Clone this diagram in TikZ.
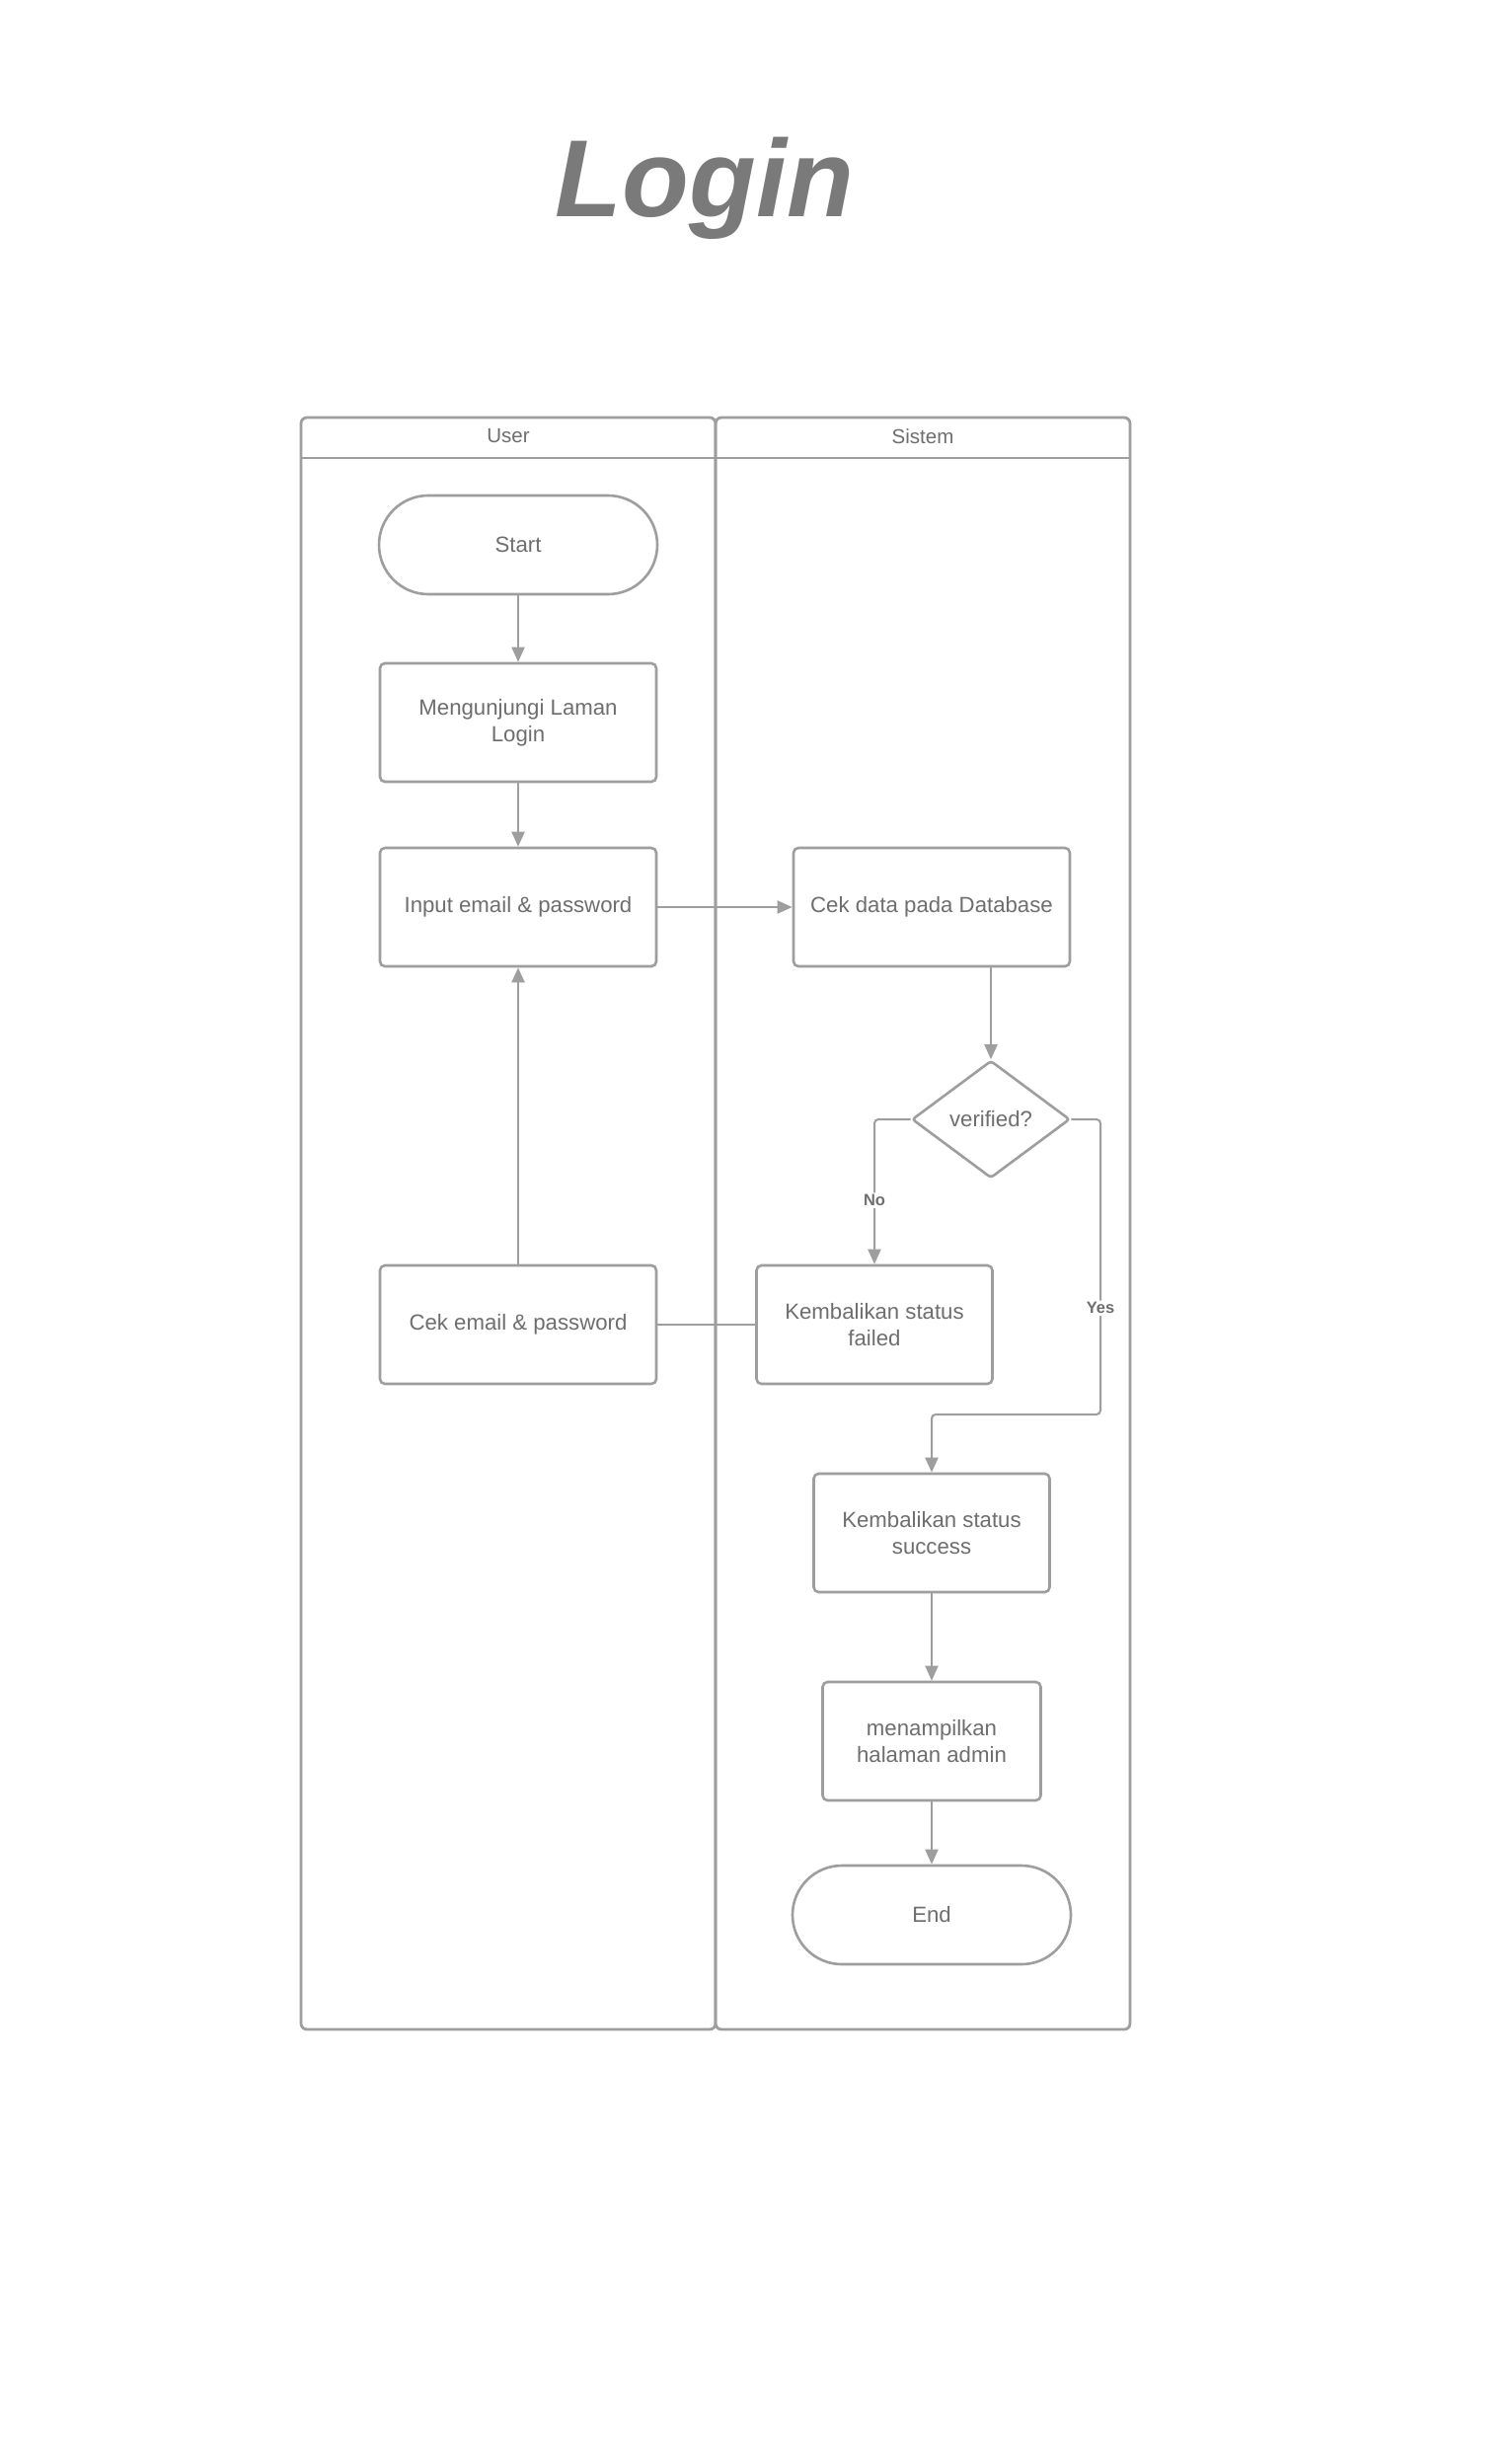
\documentclass[tikz,border=0pt]{standalone}
\usepackage{fontspec}
\setmainfont{Liberation Sans}
\usetikzlibrary{shapes.geometric,arrows.meta}
\definecolor{linegray}{HTML}{9E9E9E}
\definecolor{textgray}{HTML}{6E6E6E}
\definecolor{titlegray}{HTML}{7A7A7A}
\begin{document}
\begin{tikzpicture}[x=1pt,y=-1pt,
  every node/.style={font=\fontsize{22.2}{27}\selectfont, text=textgray},
  lane/.style={draw=linegray, line width=2.8pt, rounded corners=6pt},
  lanehead/.style={font=\fontsize{20.5}{24}\selectfont},
  stepbox/.style={draw=linegray, line width=2.6pt, rounded corners=5pt,
    minimum width=280pt, minimum height=120pt, align=center, inner sep=0pt},
  terminal/.style={draw=linegray, line width=2.6pt, rounded corners=50pt,
    minimum width=282pt, minimum height=100pt, inner sep=0pt},
  decision/.style={draw=linegray, line width=2.6pt, diamond, rounded corners=3pt,
    minimum width=160pt, minimum height=119pt, inner sep=0pt},
  arr/.style={draw=linegray, line width=2pt, rounded corners=4pt,
    -{Triangle[length=15pt,width=13pt]}},
  plain/.style={draw=linegray, line width=2pt},
  lbl/.style={font=\bfseries\fontsize{16.5}{16.5}\selectfont, fill=white, inner sep=2pt}
]
% page
\fill[white] (0,0) rectangle (1531,2473);
\useasboundingbox (0,0) rectangle (1531,2473);

% title
\node[anchor=base, text=titlegray, font=\fontsize{111}{111}\selectfont\bfseries\itshape] (title) at (714,219) {Login};

% swimlanes
\draw[lane] (305,423) rectangle (725,2056);
\draw[lane] (725,423) rectangle (1145,2056);
\draw[lane, rounded corners=0pt] (305,464) -- (1145,464);
\node[lanehead] (userlane) at (515,442) {User};
\node[lanehead] (systemlane) at (935,442) {Sistem};

% steps
\node[terminal] (start) at (525,552) {Start};
\node[stepbox] (visit) at (525,732) {Mengunjungi Laman\\Login};
\node[stepbox] (input) at (525,919) {Input email \& password};
\node[stepbox] (cekdb) at (944,919) {Cek data pada Database};
\node[decision] (dia) at (1004,1134) {verified?};
\node[stepbox, minimum width=239pt] (failed) at (886,1342) {Kembalikan status\\failed};
\node[stepbox] (cekemail) at (525,1342) {Cek email \& password};
\node[stepbox, minimum width=239pt] (success) at (944,1553) {Kembalikan status\\success};
\node[stepbox, minimum width=221pt] (admin) at (944,1764) {menampilkan\\halaman admin};
\node[terminal] (end) at (944,1940) {End};

\coordinate (yesturn) at (1115,1433);

% connectors
\draw[arr] (start) -- (visit);
\draw[arr] (visit) -- (input);
\draw[arr] (input) -- (cekdb);
\draw[arr] (cekdb.south -| dia.north) -- (dia.north);
\draw[arr] (dia.west) -| node[lbl, pos=0.78] (nolbl) {No} (failed.north);
\draw[arr] (dia.east) -| node[lbl, pos=0.82] (yeslbl) {Yes} (yesturn) -| (success.north);
\draw[plain] (cekemail.east) -- (failed.west);
\draw[arr] (cekemail) -- (input);
\draw[arr] (success) -- (admin);
\draw[arr] (admin) -- (end);
\end{tikzpicture}
\end{document}
